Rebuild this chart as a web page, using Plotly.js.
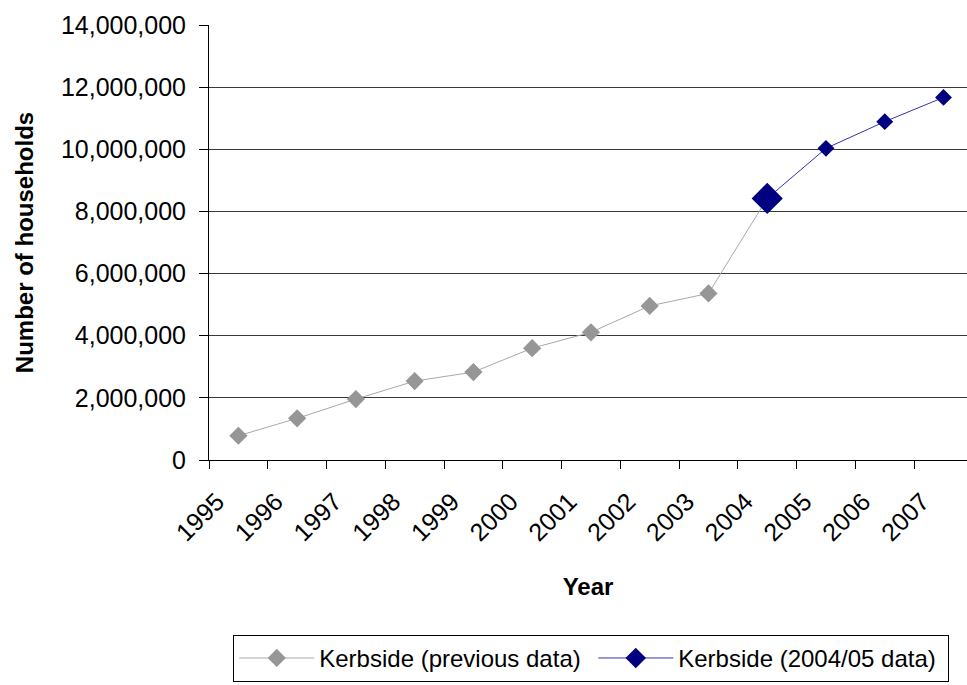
<!DOCTYPE html>
<html>
<head>
<meta charset="utf-8">
<script src="https://cdn.plot.ly/plotly-3.0.1.min.js"></script>
<style>
html,body{margin:0;padding:0;background:#fff;}
#chart{width:967px;height:685px;}
</style>
</head>
<body>
<div id="chart"></div>
<script>
// Category labels (years)
const years = [1995,1996,1997,1998,1999,2000,2001,2002,2003,2004,2005,2006,2007];
const yTicks = [0,2000000,4000000,6000000,8000000,10000000,12000000,14000000];

// Series 1: Kerbside (previous data)
const prevName = 'Kerbside (previous data)';
const prevYears = [1995,1996,1997,1998,1999,2000,2001,2002,2003,2004];
const prevValues = [780000,1340000,1960000,2540000,2830000,3600000,4110000,4960000,5360000,8420000];

// Series 2: Kerbside (2004/05 data)
const newName = 'Kerbside (2004/05 data)';
const newYears = [2004,2005,2006,2007];
const newValues = [8420000,10030000,10890000,11670000];

// points sit in the middle of each category band
const mid = y => y + 0.5;

const FONT = '"Liberation Sans", Arial, sans-serif';

const traces = [
  {
    type: 'scatter', mode: 'lines+markers', name: prevName,
    x: prevYears.map(mid), y: prevValues,
    line: {color: '#a8a8a8', width: 1},
    marker: {symbol: 'diamond', size: 14, color: '#969696', opacity: 1, line: {width: 0}},
    legendwidth: 269
  },
  {
    type: 'scatter', mode: 'lines+markers', name: newName,
    x: newYears.map(mid), y: newValues,
    line: {color: '#3434a8', width: 1},
    marker: {symbol: 'diamond', size: newYears.map((y, i) => i === 0 ? 24 : 13), color: '#000080', opacity: 1, line: {width: 0}},
    legendwidth: 265
  }
];

const layout = {
  width: 967, height: 685,
  paper_bgcolor: '#fff', plot_bgcolor: '#fff',
  margin: {l: 209, r: 0, t: 25, b: 225},
  font: {family: FONT, color: '#000', size: 24},
  showlegend: true,
  xaxis: {
    type: 'linear',
    range: [years[0], years[0] + 12.9],
    tickvals: years, ticktext: years.map(String),
    tickangle: -45,
    tickfont: {family: FONT, size: 25, color: '#000'},
    ticks: 'outside', ticklen: 8, tickcolor: '#000', tickwidth: 1,
    ticklabelstandoff: 8, ticklabelshift: 8,
    showline: true, linecolor: '#000', linewidth: 1,
    showgrid: false, zeroline: false,
    title: {text: '<b>Year</b>', font: {family: FONT, size: 24, color: '#000'}, standoff: 32}
  },
  yaxis: {
    range: [0, 14000000],
    tickvals: yTicks,
    tickformat: ',d',
    tickfont: {family: FONT, size: 25, color: '#000'},
    ticks: 'outside', ticklen: 9, tickcolor: '#000', tickwidth: 1,
    ticklabelstandoff: 8,
    showline: true, linecolor: '#000', linewidth: 1,
    showgrid: true, gridcolor: '#3a3a3a', gridwidth: 1,
    zeroline: false,
    title: {text: '<b>Number of households</b>', font: {family: FONT, size: 24, color: '#000'}, standoff: 20}
  },
  legend: {
    orientation: 'h',
    x: 0.032, xanchor: 'left',
    y: -0.402, yanchor: 'top',
    bordercolor: '#000', borderwidth: 1,
    bgcolor: '#fff',
    font: {family: FONT, size: 24, color: '#000'},
    itemwidth: 75
  }
};

Plotly.newPlot('chart', traces, layout, {displayModeBar: false, staticPlot: true});
</script>
</body>
</html>
